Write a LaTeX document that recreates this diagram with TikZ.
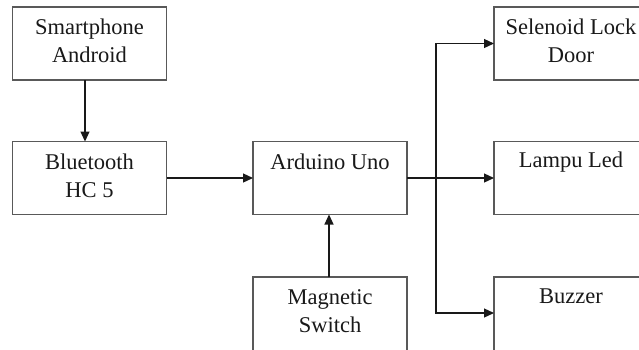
\documentclass[tikz,border=0pt]{standalone}
\usepackage{fontspec}
\setmainfont{Liberation Serif}
\usetikzlibrary{arrows.meta}
\tikzset{
  box/.style={draw=black!65, line width=1.3pt, minimum width=154pt, minimum height=73pt, inner sep=0pt, outer sep=0pt},
  lowbox/.style={box, minimum height=76pt},
  lbl/.style={align=center, inner sep=0pt, font=\fontsize{22.5}{28}\selectfont, text=black!90},
  arr/.style={draw=black!90, line width=1.2pt, -{Triangle[length=10pt,width=9pt]}}
}
\begin{document}
\begin{tikzpicture}[x=1pt,y=-1pt]
\useasboundingbox (0,0) rectangle (639,349);
\fill[white] (0,0) rectangle (639,349);
\clip (0,0) rectangle (639,349);
% boxes
\node[box] (sp)  at (89.5,43.5) {};
\node[box] (bt)  at (89.5,178) {};
\node[box] (ard) at (330,178) {};
\node[lowbox] (mag) at (330,315) {};
\node[box] (sel) at (571,43.5) {};
\node[box] (led) at (571,178) {};
\node[lowbox] (buz) at (571,315) {};
% labels
\node[lbl] (spt)  at (89.5,41) {Smartphone\\Android};
\node[lbl] (btt)  at (89.5,176) {Bluetooth\\HC 5};
\node[lbl] (ardt) at (330,162) {Arduino Uno};
\node[lbl] (magt) at (330,311.5) {Magnetic\\Switch};
\node[lbl] (selt) at (571,41) {Selenoid Lock\\Door};
\node[lbl] (ledt) at (571,162) {Lampu Led};
\node[lbl] (buzt) at (571,296) {Buzzer};
% connectors
\draw[arr] ([xshift=-4.5pt]sp.south) -- ([xshift=-4.5pt]bt.north);
\draw[arr] (bt.east) -- (ard.west);
\draw[arr] ([xshift=-1pt]mag.north) -- ([xshift=-1pt]ard.south);
\draw[arr] (ard.east) -- (led.west);
\coordinate (j) at (436,178);
\draw[arr] (j) |- (sel.west);
\draw[arr] (j) |- ([yshift=2pt]buz.west);
\end{tikzpicture}
\end{document}
